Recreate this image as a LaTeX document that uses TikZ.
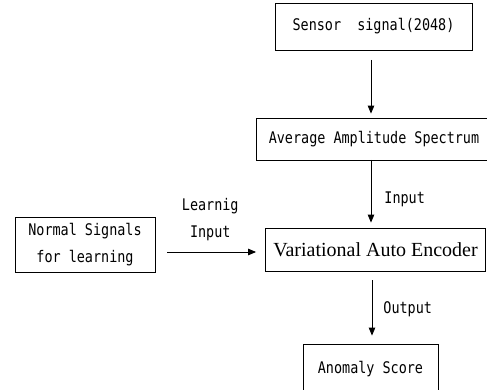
\documentclass[tikz,border=0pt]{standalone}
\usepackage{fontspec}
\usepackage{tikz}
\usetikzlibrary{arrows.meta}
\newfontfamily\gothic{DejaVu Sans Mono}[FakeStretch=0.84]
\newfontfamily\mincho{Liberation Serif}

\tikzset{
  blockbox/.style={draw, line width=0.8pt, inner sep=0pt, font=\gothic\fontsize{16}{27}\selectfont},
  flowarrow/.style={line width=0.9pt, -{Triangle[length=8pt,width=6.5pt]}},
  flowlabel/.style={font=\gothic\fontsize{16}{27}\selectfont, inner sep=0pt}
}

\begin{document}
\begin{tikzpicture}[x=1pt, y=-1pt]
            \useasboundingbox (0, 0) rectangle (487, 390);
            %
            \node[blockbox, minimum width=197pt, minimum height=47pt] (sensor) at (373.5, 26.5) {Sensor~~signal(2048)};
            \node[blockbox, minimum width=236pt, minimum height=42pt] (spectrum) at (374, 139) {Average Amplitude Spectrum};
            \node[blockbox, minimum width=220pt, minimum height=43pt, font=\mincho\fontsize{20}{24}\selectfont] (vae) at (375.5, 249.5) {Variational Auto Encoder};
            \node[blockbox, minimum width=140pt, minimum height=55pt, align=center] (normal) at (85, 244.5) {Normal Signals\\for learning};
            \node[blockbox, minimum width=135pt, minimum height=50pt] (score) at (370.5, 369) {Anomaly Score};
            %
            \draw[flowarrow, shorten <=10pt, shorten >=4pt] (371, 50) coordinate (s1) -- (s1 |- spectrum.north);
            \draw[flowarrow, shorten >=5pt] (371, 160) coordinate (s2) -- (s2 |- vae.north)
                node[flowlabel, pos=0.58, right=13pt] {Input};
            \draw[flowarrow, shorten <=9pt, shorten >=8pt] (372, 271) coordinate (s3) -- (s3 |- score.north)
                node[flowlabel, pos=0.53, right=11pt] {Output};
            %
            \draw[flowarrow, shorten <=12pt, shorten >=9pt] (normal.east |- 0, 252) -- (vae.west |- 0, 252)
                node[flowlabel, midway, above=11pt, align=center] {Learnig\\Input};
        \end{tikzpicture}
\end{document}
